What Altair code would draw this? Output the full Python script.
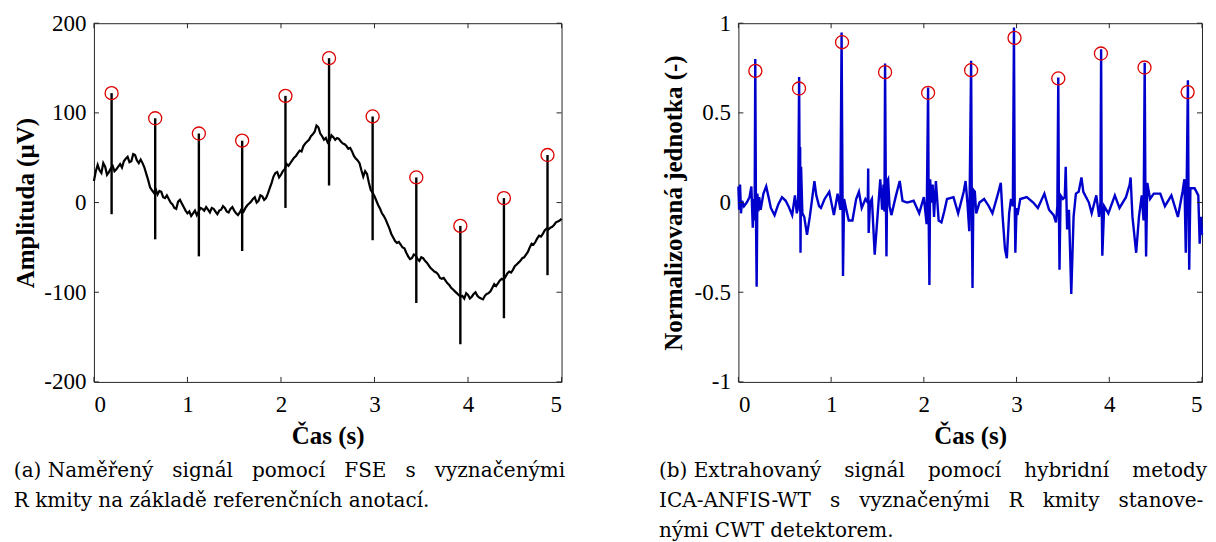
import altair as alt
import pandas as pd

# ---------------- data: panel (a) ----------------
base_t_step = 0.02
base_a = [24, 35, 42, 36, 33, 44, 40, 31, 34, 38,
          41, 35, 37, 40, 43, 39, 46, 49, 51, 45,
          46, 54, 53, 47, 44, 48, 44, 39, 32, 25,
          17, 14, 11, 15, 9, 13, 12, 6, 5, 8,
          4, 0, -2, -6, -7, 1, 3, -1, -5, -9,
          -12, -10, -15, -12, -9, -14, -10, -6, -7, -9,
          -5, -8, -11, -6, -7, -10, -13, -9, -8, -4,
          -6, -10, -11, -7, -5, -9, -12, -14, -11, -7,
          -10, -6, -3, -1, 1, 4, 6, 0, 2, 8,
          7, 3, 5, 10, 16, 22, 29, 33, 34, 28,
          31, 35, 37, 43, 41, 44, 47, 50, 52, 55,
          58, 57, 63, 66, 68, 70, 74, 76, 79, 86,
          84, 77, 74, 70, 72, 67, 69, 75, 73, 70,
          72, 71, 68, 66, 65, 63, 60, 61, 57, 52,
          49, 47, 44, 36, 29, 35, 32, 22, 14, 11,
          7, 2, -3, -7, -12, -15, -19, -24, -29, -35,
          -39, -43, -45, -44, -47, -50, -51, -56, -60, -63,
          -62, -58, -59, -63, -65, -61, -62, -65, -67, -70,
          -73, -75, -77, -78, -80, -84, -85, -84, -87, -90,
          -92, -95, -97, -99, -101, -103, -105, -104, -107, -101,
          -103, -107, -105, -102, -100, -104, -106, -107, -108, -104,
          -102, -101, -99, -95, -91, -93, -90, -87, -85, -86,
          -83, -79, -77, -78, -75, -71, -69, -67, -65, -62,
          -61, -58, -55, -50, -46, -47, -44, -40, -37, -38,
          -35, -31, -29, -30, -28, -27, -25, -22, -21, -20,
          -18]
beat_t_a = [0.189, 0.655, 1.122, 1.585, 2.048, 2.514, 2.980, 3.447, 3.918, 4.384, 4.850]
beat_peak_a = [122, 94, 77, 69, 119, 161, 96, 28, -26, 5, 53]
beat_low_a = [-13, -41, -60, -54, -6, 19, -42, -112, -158, -129, -81]

# ---------------- data: panel (b) ----------------
sig_t_b = [0.000, 0.008, 0.018, 0.028, 0.040, 0.060, 0.090, 0.120, 0.140, 0.155, 0.165, 0.175, 0.182, 0.190, 0.197,
           0.205, 0.215, 0.225, 0.240, 0.270, 0.300, 0.330, 0.350, 0.390, 0.430, 0.470, 0.510, 0.540, 0.580, 0.610,
           0.630, 0.645, 0.655, 0.662, 0.666, 0.670, 0.676, 0.690, 0.710, 0.740, 0.770, 0.800, 0.820, 0.840, 0.870,
           0.890, 0.930, 0.980, 1.030, 1.070, 1.100, 1.113, 1.128, 1.140, 1.160, 1.190, 1.230, 1.270, 1.300, 1.330,
           1.370, 1.395, 1.400, 1.405, 1.420, 1.440, 1.470, 1.500, 1.530, 1.550, 1.565, 1.575, 1.582, 1.590, 1.597,
           1.605, 1.615, 1.630, 1.650, 1.700, 1.740, 1.770, 1.820, 1.890, 1.950, 2.000, 2.030, 2.046, 2.053, 2.060,
           2.068, 2.080, 2.095, 2.110, 2.130, 2.160, 2.190, 2.220, 2.250, 2.320, 2.370, 2.430, 2.450, 2.470, 2.490,
           2.510, 2.518, 2.525, 2.535, 2.550, 2.565, 2.600, 2.650, 2.700, 2.740, 2.800, 2.830, 2.850, 2.875, 2.895,
           2.920, 2.940, 2.960, 2.972, 2.980, 2.987, 3.000, 3.010, 3.040, 3.110, 3.180, 3.230, 3.300, 3.350, 3.400,
           3.425, 3.440, 3.450, 3.457, 3.463, 3.475, 3.500, 3.520, 3.530, 3.545, 3.565, 3.590, 3.615, 3.640, 3.670,
           3.700, 3.720, 3.780, 3.810, 3.860, 3.890, 3.905, 3.912, 3.918, 3.925, 3.945, 3.990, 4.060, 4.110, 4.180,
           4.220, 4.230, 4.250, 4.290, 4.320, 4.350, 4.370, 4.382, 4.390, 4.397, 4.410, 4.440, 4.480, 4.550, 4.600,
           4.670, 4.740, 4.790, 4.810, 4.825, 4.835, 4.848, 4.855, 4.862, 4.875, 4.920, 4.960, 4.975, 4.990, 5.000]
sig_v_b = [0.09, -0.04, 0.10, -0.06, 0.01, -0.02, 0.00, 0.03, 0.09, -0.14, 0.02, -0.10, 0.80, -0.10, -0.47,
           0.05, -0.05, 0.03, -0.04, 0.05, 0.09, 0.02, -0.03, -0.07, -0.01, 0.03, 0.01, -0.02, -0.07, 0.04,
           -0.06, 0.02, 0.70, -0.05, 0.31, -0.28, 0.20, -0.06, -0.08, -0.18, -0.08, 0.04, 0.12, 0.04, -0.02,
           -0.03, 0.02, 0.06, -0.07, 0.05, -0.04, 0.948, -0.41, 0.02, -0.03, -0.10, -0.10, 0.02, 0.06, -0.03,
           0.02, 0.00, 0.19, -0.17, 0.00, 0.02, -0.29, -0.08, 0.13, -0.04, 0.10, -0.05, 0.775, 0.05, -0.30,
           0.12, 0.13, -0.02, -0.07, 0.04, 0.12, 0.01, 0.00, 0.01, -0.06, 0.03, -0.12, 0.642, -0.12, -0.46,
           0.13, 0.00, 0.10, -0.08, 0.12, -0.10, -0.11, -0.05, 0.02, 0.03, -0.06, 0.06, 0.12, 0.00, -0.16,
           0.79, -0.10, -0.476, 0.07, 0.06, -0.06, 0.00, 0.02, -0.02, -0.06, 0.05, 0.11, -0.08, -0.26, -0.31,
           -0.06, 0.02, -0.02, 0.976, 0.00, -0.28, -0.03, -0.07, 0.02, 0.03, 0.00, -0.03, 0.05, -0.04, -0.07,
           -0.11, -0.02, 0.697, -0.05, -0.374, 0.04, 0.02, 0.03, 0.20, -0.15, -0.04, -0.51, -0.08, 0.05, 0.06,
           0.14, 0.06, 0.00, -0.06, 0.04, -0.08, 0.00, 0.855, 0.00, -0.296, -0.02, -0.06, 0.04, -0.03, 0.03,
           0.10, 0.14, -0.08, -0.28, -0.08, 0.04, -0.10, 0.78, 0.00, -0.30, 0.11, 0.02, 0.05, 0.05, -0.02,
           0.04, -0.08, 0.06, 0.13, -0.28, 0.10, 0.682, 0.00, -0.374, 0.08, 0.08, 0.04, -0.23, -0.08, -0.18]
det_t_b = [0.183, 0.654, 1.118, 1.582, 2.046, 2.510, 2.978, 3.450, 3.910, 4.380, 4.845]
det_v_b = [0.734, 0.636, 0.894, 0.727, 0.612, 0.738, 0.918, 0.692, 0.831, 0.753, 0.616]

x_ticks = [0, 1, 2, 3, 4, 5]
y_ticks_a = [-200, -100, 0, 100, 200]
y_ticks_b = [-1, -0.5, 0, 0.5, 1]

G3 = "\u00a0\u00a0\u00a0"
G3T = "\u00a0\u00a0\u00a0\u2009"
caption_a = [G3.join(["(a) Naměřený", "signál", "pomocí", "FSE", "s", "vyznačenými"]),
             "R kmity na základě referenčních anotací."]
caption_b = [G3T.join(["(b) Extrahovaný", "signál", "pomocí", "hybridní", "metody"]),
             G3.join(["ICA-ANFIS-WT", "s", "vyznačenými", "R", "kmity", "stanove-"]),
             "nými CWT detektorem."]

# ---------------- build tables ----------------
df_base_a = pd.DataFrame({"t": [round(i * base_t_step, 3) for i in range(len(base_a))], "v": base_a})
df_beat_a = pd.DataFrame({"t": beat_t_a, "v": beat_peak_a, "low": beat_low_a})
df_sig_b = pd.DataFrame({"t": sig_t_b, "v": sig_v_b})
df_det_b = pd.DataFrame({"t": det_t_b, "v": det_v_b})

W1, W2, H = 468, 464, 359
TICK = 5
FONT = "Liberation Serif"
CAP_FONT = "DejaVu Serif"
FRAME = "#262626"

xs = alt.Scale(domain=[0, 5], nice=False)
xax = alt.Axis(values=x_ticks, title="Čas (s)", labelPadding=12, titlePadding=7, format="d")


def make_panel(ydom, yticks, ytitle, ytp, W, layers_fn, caption, cap_dx):
    ys = alt.Scale(domain=ydom, nice=False)
    yax = alt.Axis(values=yticks, title=ytitle, labelPadding=8, titlePadding=ytp,
                   labelExpr="toString(datum.value)")
    X = alt.X("t:Q", scale=xs, axis=xax)
    Y = alt.Y("v:Q", scale=ys, axis=yax)
    layers = layers_fn(X, Y)
    dx = pd.DataFrame({"t": x_ticks})
    dy = pd.DataFrame({"v": yticks})
    layers += [
        alt.Chart(dx).mark_rule(color=FRAME, strokeWidth=1).encode(x=X, y=alt.value(H), y2=alt.value(H - TICK)),
        alt.Chart(dx).mark_rule(color=FRAME, strokeWidth=1).encode(x=X, y=alt.value(0), y2=alt.value(TICK)),
        alt.Chart(dy).mark_rule(color=FRAME, strokeWidth=1).encode(y=Y, x=alt.value(0), x2=alt.value(TICK)),
        alt.Chart(dy).mark_rule(color=FRAME, strokeWidth=1).encode(y=Y, x=alt.value(W), x2=alt.value(W - TICK)),
    ]
    return alt.layer(*layers).properties(
        width=W, height=H,
        title=alt.TitleParams(text=caption, orient="bottom", anchor="start", frame="bounds",
                              font=CAP_FONT, fontSize=20, fontWeight="normal", color="black",
                              lineHeight=30, offset=12, dx=cap_dx))


def layers_a(X, Y):
    line = alt.Chart(df_base_a).mark_line(color="black", strokeWidth=2.2).encode(x=X, y=Y)
    spikes = alt.Chart(df_beat_a).mark_rule(color="black", strokeWidth=2.4).encode(
        x=X, y=Y, y2="low:Q")
    circ = alt.Chart(df_beat_a).mark_point(shape="circle", size=170, color="#dd0000",
                                           strokeWidth=1.3, filled=False, opacity=1).encode(x=X, y=Y)
    return [line, spikes, circ]


def layers_b(X, Y):
    line = alt.Chart(df_sig_b).mark_line(color="#0000cc", strokeWidth=2.4).encode(x=X, y=Y)
    circ = alt.Chart(df_det_b).mark_point(shape="circle", size=170, color="#dd0000",
                                          strokeWidth=1.3, filled=False, opacity=1).encode(x=X, y=Y)
    return [line, circ]


panel_a = make_panel([-200, 200], y_ticks_a, "Amplituda (µV)", 5, W1, layers_a, caption_a, 0)
panel_b = make_panel([-1, 1], y_ticks_b, "Normalizovaná jednotka (-)", 8, W2, layers_b, caption_b, -2)

chart = alt.hconcat(panel_a, panel_b, spacing=92).properties(
    padding={"left": 5, "top": 3, "right": 0, "bottom": 0}
).configure_view(stroke=FRAME, strokeWidth=1).configure_axis(
    labelFont=FONT, labelFontSize=23, labelColor="black",
    titleFont=FONT, titleFontSize=25, titleFontWeight="bold", titleColor="black",
    domain=False, ticks=False, grid=False
)

chart.save("out.html", embed_options={"renderer": "svg", "actions": False})
